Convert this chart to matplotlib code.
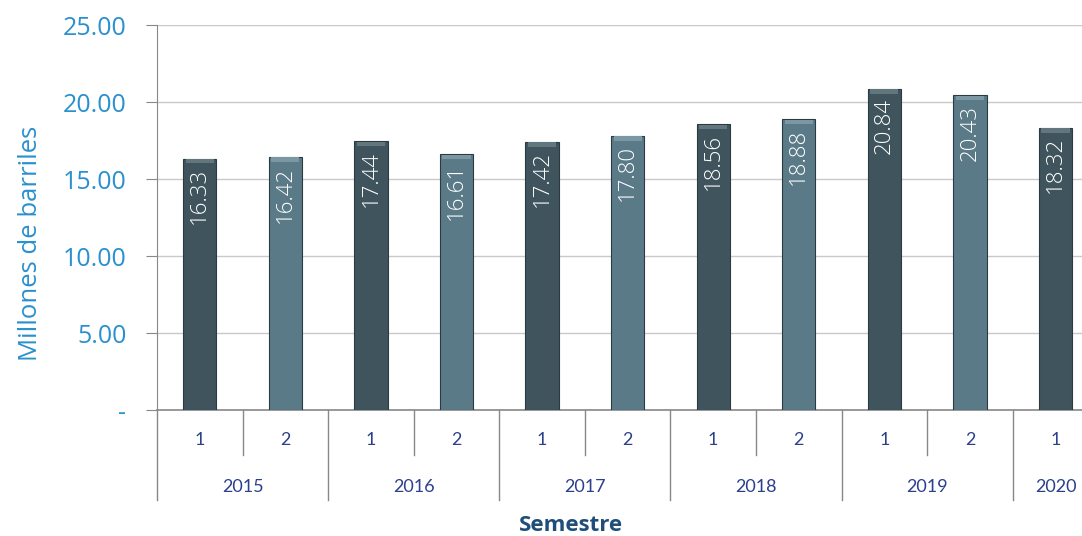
from matplotlib import pyplot as plt, transforms
import numpy as np

# data
years = ['2015', '2016', '2017', '2018', '2019', '2020']
semesters = ['1', '2', '1', '2', '1', '2', '1', '2', '1', '2', '1']
values = [16.33, 16.42, 17.44, 16.61, 17.42, 17.80, 18.56, 18.88, 20.84, 20.43, 18.32]

dark = '#3f545c'
light = '#5b7a88'
blue = '#2a90cf'
navy = '#2b3f8c'

fig = plt.figure(figsize=(10.82, 5.36), dpi=100)
ax = fig.add_axes([0.1451, 0.235, 0.8549, 0.7183])

x = np.arange(len(values))
colors = [dark if s == '1' else light for s in semesters]
ax.bar(x, values, width=0.39, color=colors, edgecolor='#2c3b41', linewidth=0.8, zorder=3)
# soft lighter top rim to hint the bevel
ax.bar(x, [0.3] * len(values), bottom=np.array(values) - 0.32, width=0.33,
       color=['#62767e' if s == '1' else '#7a97a3' for s in semesters],
       linewidth=0, zorder=3.5)

# value labels inside bars
for xi, v in zip(x, values):
    ax.text(xi, v - 0.6, f'{v:.2f}', rotation=90, ha='center', va='top',
            color='white', fontsize=16, family='Open Sans', fontweight='light', zorder=4)

ax.set_ylim(0, 25)
ax.set_xlim(-0.5, 10.31)
ax.set_yticks([0, 5, 10, 15, 20, 25])
ax.set_yticklabels(['-', '5.00', '10.00', '15.00', '20.00', '25.00'])
for lab in ax.get_yticklabels():
    lab.set_color(blue)
    lab.set_fontsize(18)
    lab.set_family('Open Sans')
ax.tick_params(axis='y', length=8, color='#888888', pad=14)
ax.set_xticks([])
ax.grid(axis='y', color='#c9c9c9', linewidth=1, zorder=0)
for s in ['top', 'right']:
    ax.spines[s].set_visible(False)
ax.spines['left'].set_color('#888888')
ax.spines['bottom'].set_color('#888888')
ax.spines['bottom'].set_linewidth(1.2)

ax.set_ylabel('Millones de barriles', color=blue, fontsize=18.5, family='Open Sans')
ax.yaxis.set_label_coords(-0.123, 0.434)

# multi-level category axis
trans = transforms.blended_transform_factory(ax.transData, ax.transAxes)
for xi, s in zip(x, semesters):
    ax.text(xi, -0.078, s, transform=trans, ha='center', va='center',
            color=navy, fontsize=13, family='Lato')
    if s == '2':
        ax.plot([xi - 0.5, xi - 0.5], [0, -0.117], transform=trans, color='#888888',
                linewidth=1, clip_on=False)
for i, yr in enumerate(years):
    start = 2 * i - 0.5
    end = min(2 * i + 1.5, 10.5)
    ax.plot([start, start], [0, -0.234], transform=trans, color='#888888',
            linewidth=1, clip_on=False)
    ax.text((start + end) / 2 if yr != '2020' else 10, -0.2, yr, transform=trans,
            ha='center', va='center', color=navy, fontsize=13, family='Lato')

fig.text(0.528, 0.02, 'Semestre', ha='center', va='center', color='#1f4e79',
         fontsize=16, fontweight='bold', family='Open Sans')

plt.savefig('out.png', dpi=100)
